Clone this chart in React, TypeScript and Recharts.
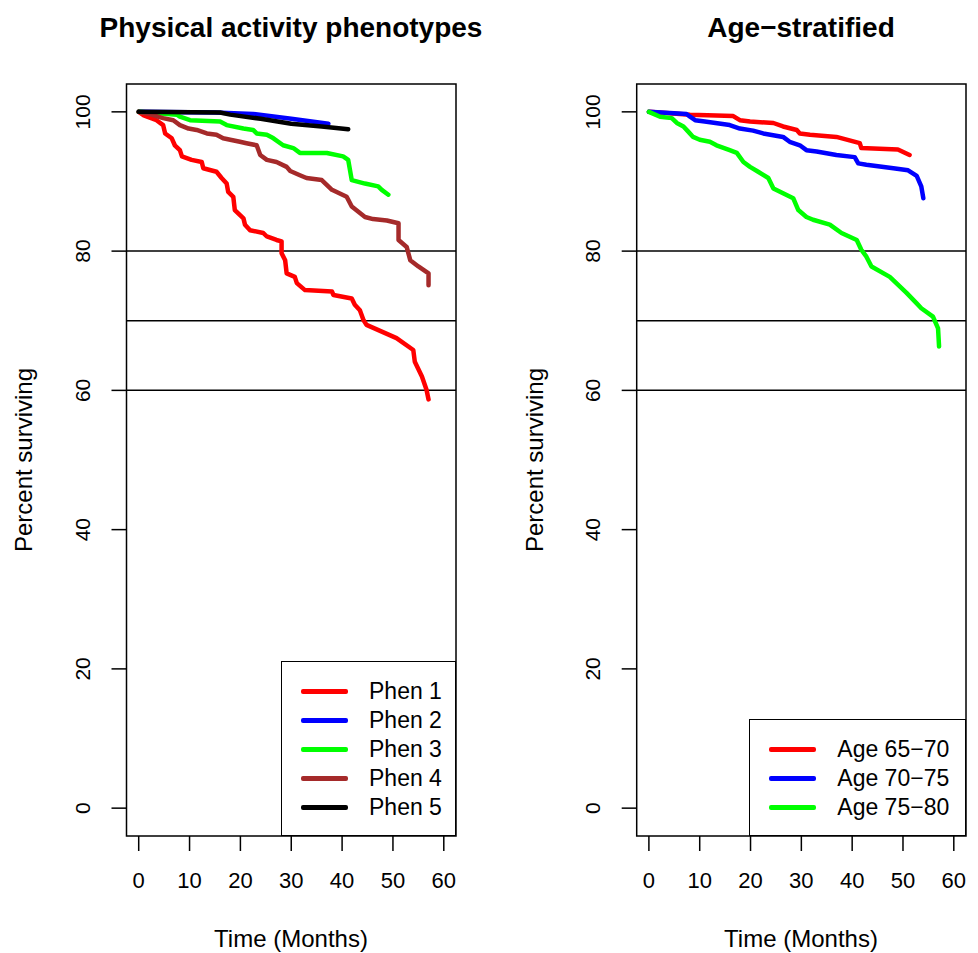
import { Legend, Line, LineChart, ReferenceArea, ReferenceLine, XAxis, YAxis } from "recharts";

const FONT = '"Liberation Sans", Arial, sans-serif';

// Kaplan-Meier curves (months, percent surviving)
const phen1Time = [0, 1.0, 3.5, 4.8, 5.2, 6.5, 7.1, 8.1, 8.5, 10.4, 12.4, 12.7, 15.3, 16.3, 17.3, 17.6, 18.6, 18.9, 20.6, 20.9, 21.9, 24.5, 25.2, 27.1, 28.1, 28.1, 28.8, 29.1, 30.7, 31.1, 32.7, 38.0, 38.3, 41.9, 42.5, 43.5, 44.2, 44.8, 50.7, 54.0, 54.3, 55.7, 56.6, 57.0];
const phen1Surv = [100, 99.5, 98.8, 98.1, 96.9, 96.2, 95.2, 94.5, 93.6, 93.1, 92.8, 91.9, 91.4, 90.5, 89.7, 88.5, 87.8, 85.9, 84.7, 83.8, 83.0, 82.6, 82.1, 81.6, 81.4, 79.7, 78.7, 76.8, 76.3, 75.4, 74.4, 74.2, 73.7, 73.2, 72.3, 71.5, 70.1, 69.4, 67.5, 65.8, 64.1, 62.0, 60.1, 58.7];

const phen2Time = [0, 15, 22.5, 30, 37.3];
const phen2Surv = [100, 99.9, 99.7, 99.0, 98.3];

const phen3Time = [0, 7.5, 8.1, 10.1, 16.0, 17.3, 20.6, 22.5, 23.2, 25.2, 26.5, 28.4, 30.4, 31.7, 37.0, 40.2, 41.2, 41.9, 44.5, 47.1, 47.8, 49.1];
const phen3Surv = [100, 99.6, 99.3, 98.8, 98.6, 98.1, 97.6, 97.4, 96.9, 96.7, 96.2, 95.2, 94.8, 94.1, 94.1, 93.6, 93.1, 90.2, 89.7, 89.3, 88.8, 88.1];

const phen4Time = [0, 2.0, 4.8, 6.8, 8.1, 9.8, 11.4, 13.4, 15.3, 16.6, 18.0, 19.9, 21.2, 23.2, 23.9, 25.2, 27.1, 29.1, 29.8, 31.7, 33.0, 36.0, 38.0, 40.9, 41.9, 44.5, 46.1, 48.8, 51.1, 51.1, 52.7, 53.4, 55.0, 57.0, 57.0];
const phen4Surv = [100, 99.7, 99.1, 98.8, 98.1, 97.6, 97.4, 96.9, 96.7, 96.2, 96.0, 95.7, 95.5, 95.2, 93.8, 93.1, 92.8, 92.1, 91.5, 90.9, 90.5, 90.2, 88.8, 87.8, 86.4, 84.9, 84.6, 84.4, 84.0, 81.6, 80.6, 78.7, 77.8, 76.8, 75.1];

const phen5Time = [0, 16, 18, 24, 30, 36, 41.2];
const phen5Surv = [100, 99.9, 99.6, 99.0, 98.3, 97.9, 97.5];

const age6570Time = [0, 8.1, 16.6, 17.9, 19.9, 24.5, 26.4, 29.1, 29.7, 31.7, 36.9, 41.5, 41.8, 49.0, 51.3];
const age6570Surv = [100, 99.6, 99.4, 98.8, 98.6, 98.4, 97.9, 97.4, 96.9, 96.7, 96.4, 95.5, 94.8, 94.6, 93.8];

const age7075Time = [0, 7.4, 8.1, 9.1, 11.0, 15.9, 17.9, 20.5, 22.5, 26.4, 27.7, 29.7, 31.0, 33.0, 36.9, 40.5, 41.2, 42.8, 48.1, 51.0, 52.7, 53.6, 54.0];
const age7075Surv = [100, 99.7, 99.3, 98.8, 98.6, 98.1, 97.6, 97.3, 96.9, 96.4, 95.7, 95.2, 94.5, 94.3, 93.8, 93.5, 92.6, 92.4, 91.9, 91.6, 90.8, 89.3, 87.6];

const age7580Time = [0, 2.2, 4.5, 5.5, 6.8, 7.7, 8.7, 10.0, 12.0, 13.3, 15.9, 17.3, 18.6, 19.9, 21.5, 23.5, 24.5, 26.4, 28.4, 29.4, 31.0, 32.3, 35.6, 37.9, 40.9, 41.8, 42.8, 43.8, 47.4, 50.7, 52.7, 53.6, 55.9, 56.9, 57.1];
const age7580Surv = [100, 99.3, 99.1, 98.4, 97.9, 97.2, 96.4, 96.0, 95.7, 95.2, 94.5, 94.1, 92.8, 92.1, 91.4, 90.5, 89.0, 88.3, 87.6, 85.9, 84.9, 84.5, 83.8, 82.6, 81.6, 80.2, 79.2, 77.8, 76.3, 74.0, 72.5, 71.8, 70.6, 68.9, 66.3];

const xTicks = [0, 10, 20, 30, 40, 50, 60];
const yTicks = [0, 20, 40, 60, 80, 100];
const refLevels = [80, 70, 60];

const X_DOMAIN: [number, number] = [-2.4, 62.4];
const Y_DOMAIN: [number, number] = [-4, 104];

const toPoints = (t: number[], s: number[]) => t.map((x, i) => ({ t: x, s: s[i] }));

const phenSeries = [
  { name: "Phen 1", color: "#FF0000", data: toPoints(phen1Time, phen1Surv) },
  { name: "Phen 2", color: "#0000FF", data: toPoints(phen2Time, phen2Surv) },
  { name: "Phen 3", color: "#00FF00", data: toPoints(phen3Time, phen3Surv) },
  { name: "Phen 4", color: "#A52A2A", data: toPoints(phen4Time, phen4Surv) },
  { name: "Phen 5", color: "#000000", data: toPoints(phen5Time, phen5Surv) },
];

const ageSeries = [
  { name: "Age 65\u221270", color: "#FF0000", data: toPoints(age6570Time, age6570Surv) },
  { name: "Age 70\u221275", color: "#0000FF", data: toPoints(age7075Time, age7075Surv) },
  { name: "Age 75\u221280", color: "#00FF00", data: toPoints(age7580Time, age7580Surv) },
];

const XTick = (props: any) => (
  <text x={props.x} y={props.y + 37} textAnchor="middle" fontSize={22} fontFamily={FONT} fill="#000">
    {props.payload.value}
  </text>
);

const YTick = (props: any) => {
  const bx = props.x - 21.5;
  return (
    <text
      x={bx}
      y={props.y}
      transform={`rotate(-90 ${bx} ${props.y})`}
      textAnchor="middle"
      fontSize={21}
      fontFamily={FONT}
      fill="#000"
    >
      {props.payload.value}
    </text>
  );
};

function LegendBox({ payload, width, height }: any) {
  return (
    <div
      style={{
        position: "relative",
        width,
        height,
        boxSizing: "border-box",
        border: "1.5px solid #000",
        background: "#fff",
        fontFamily: FONT,
      }}
    >
      {(payload || []).map((p: any, i: number) => (
        <div key={p.value} style={{ position: "absolute", left: 0, top: 29 * (i + 1) - 15, height: 30, width: "100%" }}>
          <div
            style={{
              position: "absolute",
              left: 19,
              top: 13,
              width: 47,
              height: 4.5,
              borderRadius: 2,
              background: p.color,
            }}
          />
          <span
            style={{
              position: "absolute",
              left: 87,
              top: 0,
              lineHeight: "30px",
              fontSize: 23,
              color: "#000",
              whiteSpace: "nowrap",
            }}
          >
            {p.value}
          </span>
        </div>
      ))}
    </div>
  );
}

interface PanelProps {
  series: { name: string; color: string; data: { t: number; s: number }[] }[];
  yAxisWidth: number;
  marginRight: number;
  legend: { left: number; top: number; width: number; height: number };
}

function Panel({ series, yAxisWidth, marginRight, legend }: PanelProps) {
  return (
    <LineChart width={489} height={953} margin={{ top: 84, right: marginRight, left: 0, bottom: 57 }}>
      <XAxis
        dataKey="t"
        type="number"
        domain={X_DOMAIN}
        ticks={xTicks}
        allowDataOverflow
        axisLine={false}
        tickSize={15}
        tickMargin={0}
        tickLine={{ stroke: "#000", strokeWidth: 1.5 }}
        tick={<XTick />}
        height={60}
      />
      <YAxis
        dataKey="s"
        type="number"
        domain={Y_DOMAIN}
        ticks={yTicks}
        allowDataOverflow
        axisLine={false}
        tickSize={15}
        tickMargin={0}
        tickLine={{ stroke: "#000", strokeWidth: 1.5 }}
        tick={<YTick />}
        width={yAxisWidth}
      />
      {refLevels.map((lv) => (
        <ReferenceLine key={lv} y={lv} stroke="#000" strokeWidth={1.5} />
      ))}
      {series.map((s) => (
        <Line
          key={s.name}
          data={s.data}
          dataKey="s"
          name={s.name}
          type="linear"
          stroke={s.color}
          strokeWidth={4.5}
          strokeLinecap="round"
          strokeLinejoin="round"
          dot={false}
          activeDot={false}
          isAnimationActive={false}
        />
      ))}
      <ReferenceArea
        x1={X_DOMAIN[0]}
        x2={X_DOMAIN[1]}
        y1={Y_DOMAIN[0]}
        y2={Y_DOMAIN[1]}
        fill="none"
        stroke="#000"
        strokeWidth={1.5}
      />
      <Legend
        layout="vertical"
        align="center"
        verticalAlign="middle"
        wrapperStyle={{ position: "absolute", left: legend.left, top: legend.top, width: legend.width, height: legend.height }}
        content={(props: any) => <LegendBox payload={props.payload} width={legend.width} height={legend.height} />}
      />
    </LineChart>
  );
}

export default function App() {
  return (
    <div style={{ position: "absolute", left: 0, top: 0, width: 978, height: 953, background: "#fff" }}>
      <div style={{ position: "absolute", left: 0, top: 0 }}>
        <Panel series={phenSeries} yAxisWidth={126.5} marginRight={33} legend={{ left: 281, top: 661, width: 175, height: 175 }} />
      </div>
      <div style={{ position: "absolute", left: 489, top: 0 }}>
        <Panel series={ageSeries} yAxisWidth={147.7} marginRight={12} legend={{ left: 260.3, top: 719.3, width: 216.7, height: 116.7 }} />
      </div>
      <svg width={978} height={953} style={{ position: "absolute", left: 0, top: 0, pointerEvents: "none" }}>
        <g fontFamily={FONT} fill="#000">
          <text x={291} y={37} textAnchor="middle" fontSize={28} fontWeight="bold">Physical activity phenotypes</text>
          <text x={801} y={37} textAnchor="middle" fontSize={28} fontWeight="bold">Age{"\u2212"}stratified</text>
          <text x={291} y={947} textAnchor="middle" fontSize={24}>Time (Months)</text>
          <text x={801} y={947} textAnchor="middle" fontSize={24}>Time (Months)</text>
          <text x={32} y={460} textAnchor="middle" fontSize={24} transform="rotate(-90 32 460)">Percent surviving</text>
          <text x={543} y={460} textAnchor="middle" fontSize={24} transform="rotate(-90 543 460)">Percent surviving</text>
        </g>
      </svg>
    </div>
  );
}
